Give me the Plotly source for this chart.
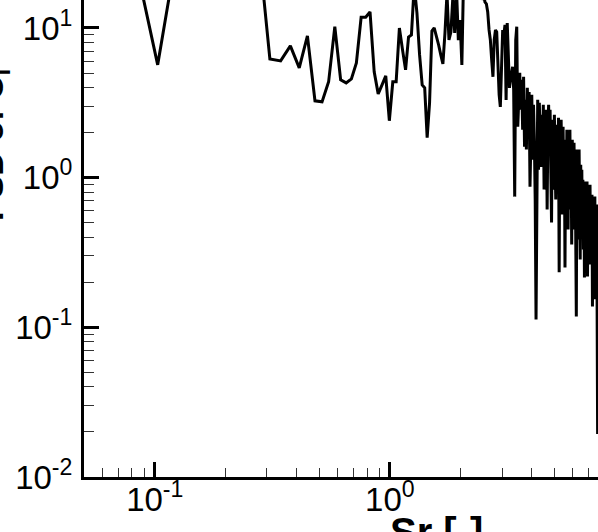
"""
PSD of the lift coefficient vs Strouhal number (log-log)
"""

import plotly.graph_objects as go

# frequency bin width (Strouhal units); bins start at 1 * DF
DF = 0.0343

psd = [
    60, 108, 5.67, 82, 260, 420, 130, 40, 6.21, 6.03,
    7.59, 5.41, 8.85, 3.26, 3.21, 4.37, 10.2, 4.50, 4.30, 4.57,
    5.84, 11.8, 11.8, 12.8, 5.09, 3.63, 4.17, 4.79, 2.40, 4.37,
    4.37, 10.0, 7.14, 5.25, 8.71, 8.98, 19.3, 12.6, 6.61, 4.17,
    3.98, 1.85, 3.16, 9.55, 10.0, 8.85, 7.70, 6.61, 5.75, 9.26,
    17.0, 8.32, 9.41, 16.0, 9.26, 18.0, 8.30, 11.3, 5.67, 22,
    30, 26, 38, 33, 45, 36, 40, 28, 34, 24,
    20, 15.4, 16.6, 14.9, 14.5, 12.8, 9.70, 8.32, 6.12, 4.72,
    8.32, 9.70, 9.41, 5.25, 3.58, 2.97, 6.12, 9.70, 8.98, 10.5,
    3.31, 10.8, 6.61, 3.98, 4.50, 5.25, 5.50, 3.86, 0.747, 8.32,
    10.2, 2.19, 3.86, 5.01, 2.84, 4.50, 2.09, 4.72, 1.61, 3.31,
    1.54, 3.98, 2.44, 3.74, 0.871, 2.84, 3.58, 1.32, 3.07, 1.79,
    0.714, 0.113, 2.09, 3.31, 1.13, 3.16, 1.79, 1.18, 2.63, 1.54,
    3.07, 0.832, 2.26, 1.32, 2.84, 0.612, 2.09, 3.07, 1.54, 2.84,
    1.13, 0.501, 2.44, 1.79, 0.832, 2.63, 1.32, 0.714, 2.26, 1.54,
    0.970, 2.51, 0.233, 2.09, 0.714, 2.44, 1.22, 0.567, 2.19, 0.898,
    1.79, 0.251, 1.54, 0.714, 2.09, 1.05, 0.450, 1.94, 0.832, 2.09,
    0.612, 1.54, 0.358, 1.79, 0.898, 0.450, 1.71, 0.714, 1.32, 0.331,
    0.118, 1.54, 0.661, 1.22, 0.386, 1.54, 0.770, 0.284, 1.22, 0.525,
    1.13, 0.417, 0.970, 0.331, 0.898, 0.215, 0.941, 0.525, 0.714, 0.284,
    0.941, 0.219, 0.832, 0.450, 0.714, 0.263, 0.898, 0.386, 0.612, 0.331,
    0.770, 0.138, 0.714, 0.358, 0.567, 0.244, 0.747, 0.154, 0.525, 0.284,
    0.661, 0.179, 0.0194, 0.25,
]
sr = [DF * (i + 1) for i in range(len(psd))]

x_major = [0.1, 1]
x_major_text = ["10<sup>-1</sup>", "10<sup>0</sup>"]
x_minor = [0.06, 0.07, 0.08, 0.09, 0.2, 0.3, 0.4, 0.5, 0.6, 0.7, 0.8, 0.9,
           2, 3, 4, 5, 6, 7]
y_major = [0.01, 0.1, 1, 10]
y_major_text = ["10<sup>-2</sup>", "10<sup>-1</sup>", "10<sup>0</sup>", "10<sup>1</sup>"]
y_minor = [m * 10 ** e for e in (-2, -1, 0, 1) for m in range(2, 10)]

FONT = "Liberation Sans, Arial, Helvetica, sans-serif"

fig = go.Figure()
fig.add_trace(go.Scatter(
    x=sr,
    y=psd,
    mode="lines",
    line=dict(color="black", width=3),
    showlegend=False,
))

fig.update_xaxes(
    type="log",
    range=[-1.30103, 0.8852],
    showgrid=False,
    showline=True, linecolor="black", linewidth=2.5,
    ticks="inside", ticklen=15, tickwidth=2.5, tickcolor="black",
    tickmode="array", tickvals=x_major, ticktext=x_major_text,
    tickfont=dict(family=FONT, size=33, color="black"),
    ticklabelstandoff=-8,
    minor=dict(tickmode="array", tickvals=x_minor, ticks="inside",
               ticklen=9, tickwidth=1, tickcolor="#333", showgrid=False),
)
fig.update_yaxes(
    type="log",
    range=[-2, 1.187],
    showgrid=False,
    showline=True, linecolor="black", linewidth=3,
    ticks="inside", ticklen=15, tickwidth=3, tickcolor="black",
    tickmode="array", tickvals=y_major, ticktext=y_major_text,
    tickfont=dict(family=FONT, size=33, color="black"),
    ticklabelstandoff=2,
    minor=dict(tickmode="array", tickvals=y_minor, ticks="inside",
               ticklen=10, tickwidth=1, tickcolor="#333", showgrid=False),
)

# axis titles (the chart is cropped, so they sit off-centre / partly outside)
fig.add_annotation(
    text="<b>Sr [-]</b>", xref="paper", yref="paper",
    x=0.686, y=0, xanchor="center", yanchor="top", yshift=-31,
    showarrow=False, font=dict(family=FONT, size=40, color="black"),
)
fig.add_annotation(
    text="<b>PSD of C<sub>l</sub></b>", xref="paper", yref="paper",
    x=-0.177, y=0.696, xanchor="center", yanchor="middle", textangle=-90,
    showarrow=False, font=dict(family=FONT, size=34, color="black"),
)

fig.update_layout(
    width=598, height=532,
    margin=dict(l=84, r=0, t=0, b=55),
    plot_bgcolor="white", paper_bgcolor="white",
)

# drop the default page margin so the figure sits at the window corner
fig.write_html(
    "out.html",
    config={"displayModeBar": False},
    post_script="document.body.style.margin='0';",
)
